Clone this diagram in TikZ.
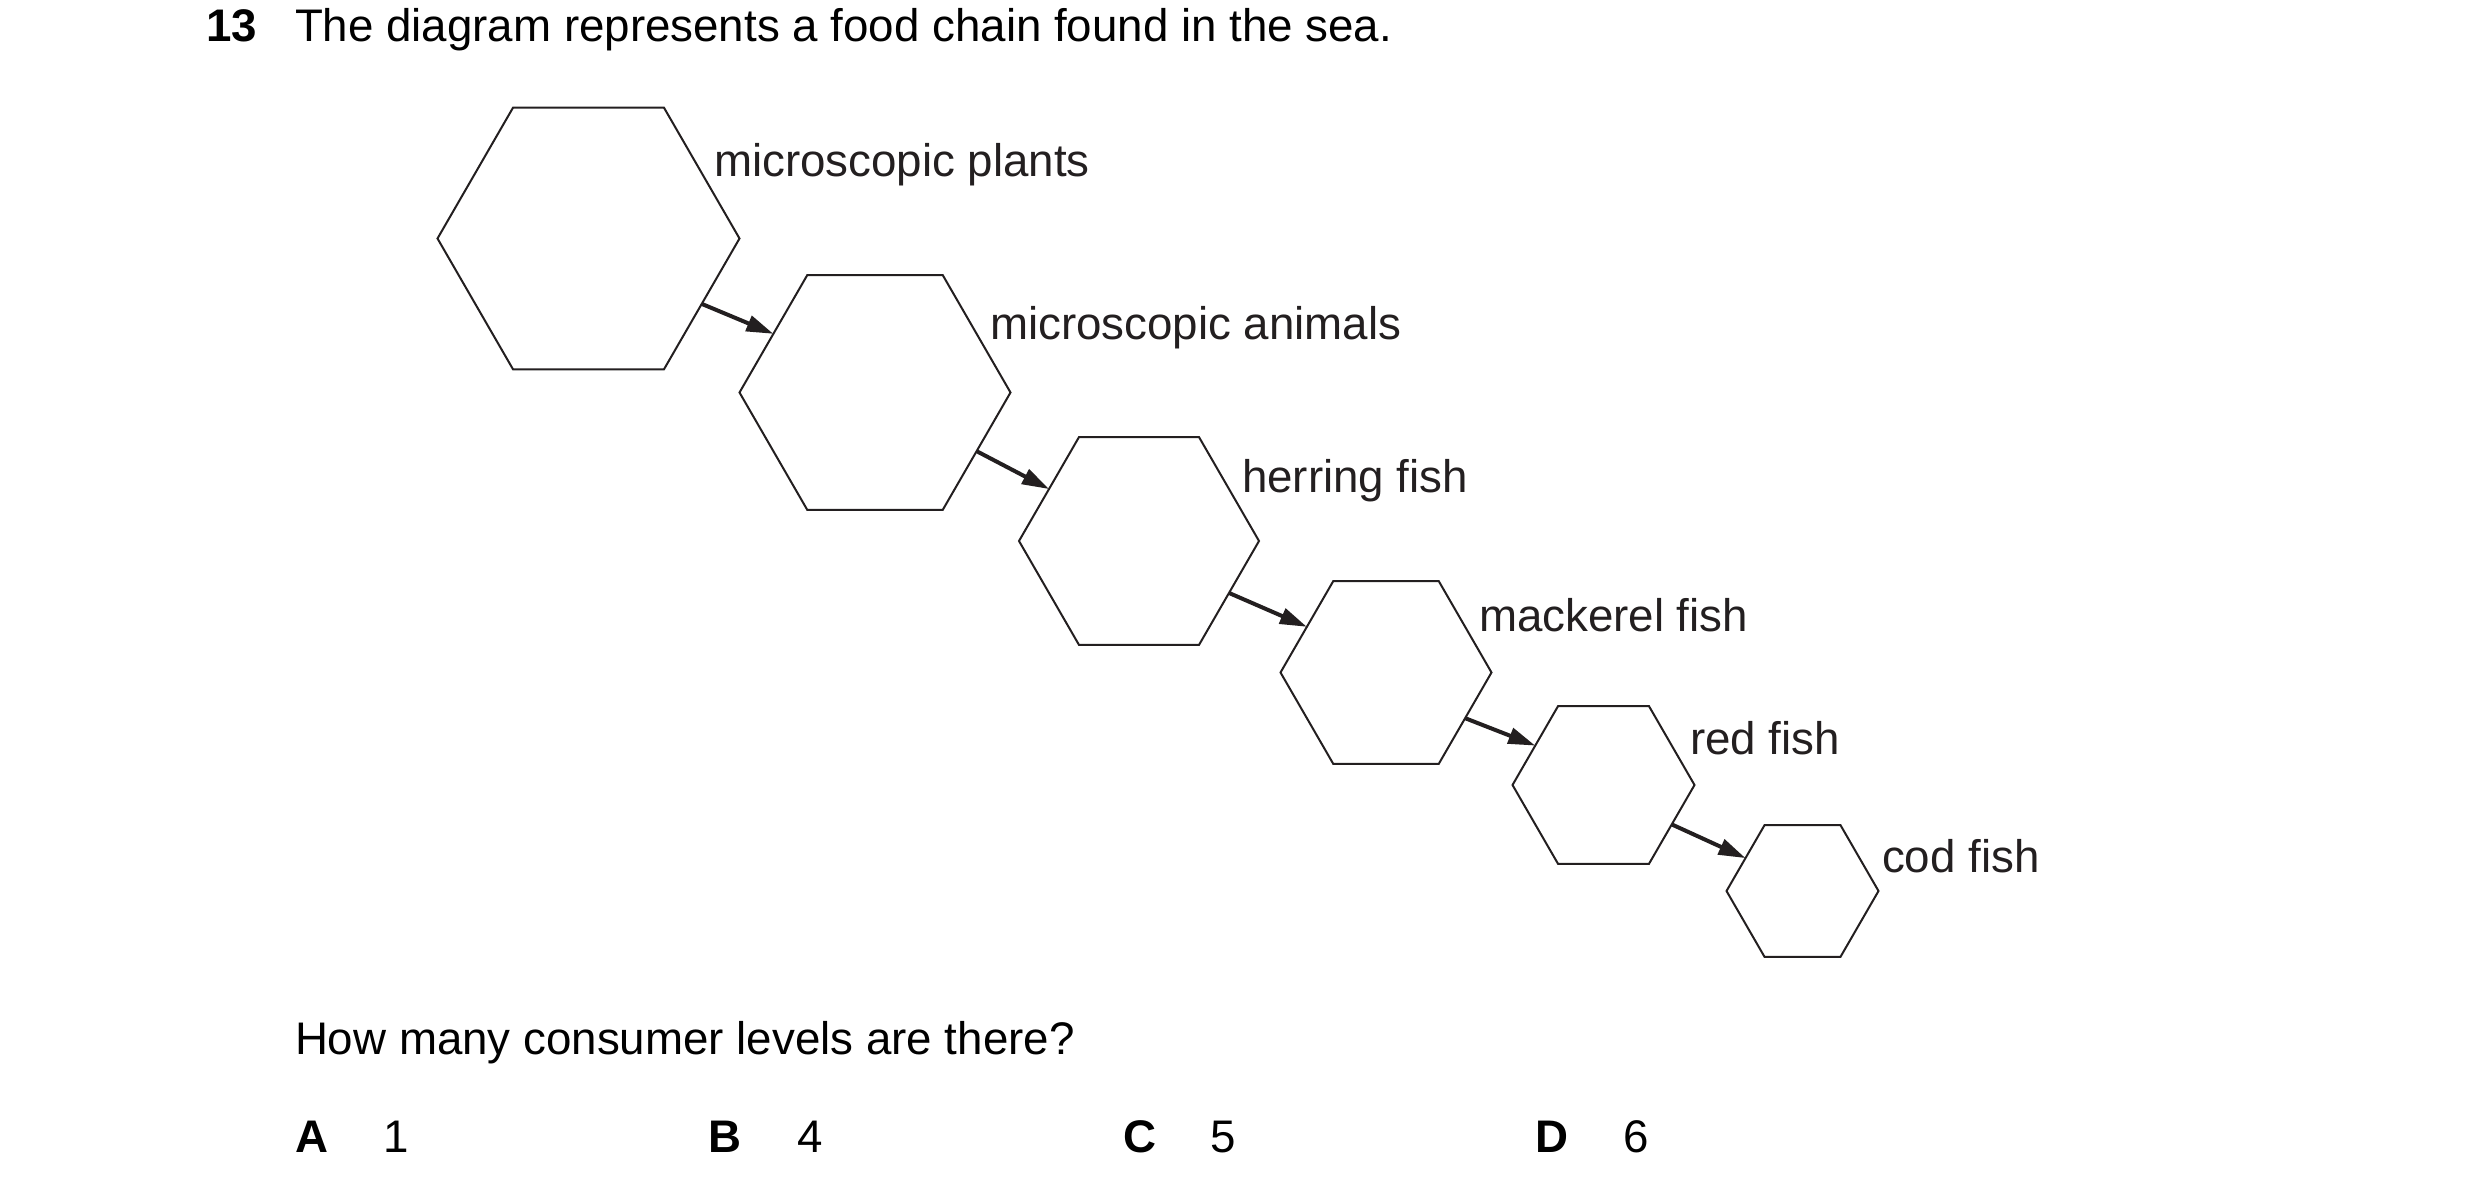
\documentclass[tikz,border=0pt]{standalone}
\usepackage{fontspec}
\setmainfont{Liberation Sans}
\usetikzlibrary{shapes.geometric,arrows.meta}
\definecolor{ink}{RGB}{35,31,32}
\begin{document}
\begin{tikzpicture}[x=0.1mm,y=-0.1mm,
  hexa/.style={regular polygon,regular polygon sides=6,draw=ink,line width=0.2mm,
    inner sep=0pt,outer sep=0pt,minimum size=#1*0.1mm},
  txt/.style={anchor=base west,inner sep=0pt,outer sep=0pt,text=black,
    font=\fontsize{13}{15}\selectfont},
  bold/.style={txt,font=\fontsize{13}{15}\selectfont\bfseries},
  lbl/.style={txt,text=ink},
  feed/.style={draw=ink,line width=0.4mm,-{Triangle[length=2.7mm,width=1.6mm]}}]
\useasboundingbox (0,0) rectangle (2480,1192);
% title
\node[bold] (num) at (206,41.7) {13};
\node[txt] (title) at (295,41.7) {The diagram represents a food chain found in the sea.};
% hexagons
\node[hexa=302] (h1) at (588.5,238.5) {};
\node[hexa=271] (h2) at (875,392.5) {};
\node[hexa=240] (h3) at (1139,541) {};
\node[hexa=211] (h4) at (1386,672.5) {};
\node[hexa=182] (h5) at (1603.5,785) {};
\node[hexa=152] (h6) at (1802.5,891) {};
% labels
\node[lbl] (l1) at (714,176.7) {microscopic plants};
\node[lbl] (l2) at (990,340) {microscopic animals};
\node[lbl] (l3) at (1242,493) {herring fish};
\node[lbl] (l4) at (1479,632) {mackerel fish};
\node[lbl] (l5) at (1690,755) {red fish};
\node[lbl] (l6) at (1882,872) {cod fish};
% arrows
\draw[feed] (h1.-30) -- (h2.150);
\draw[feed] (h2.-30) -- (h3.150);
\draw[feed] (h3.-30) -- (h4.150);
\draw[feed] (h4.-30) -- (h5.150);
\draw[feed] (h5.-30) -- (h6.150);
% question
\node[txt] (q) at (295,1054) {How many consumer levels are there?};
\node[bold] (oa) at (295,1152) {A};
\node[txt] (va) at (383,1152) {1};
\node[bold] (ob) at (708,1152) {B};
\node[txt] (vb) at (797,1152) {4};
\node[bold] (oc) at (1123,1152) {C};
\node[txt] (vc) at (1210,1152) {5};
\node[bold] (od) at (1535,1152) {D};
\node[txt] (vd) at (1623,1152) {6};
\end{tikzpicture}
\end{document}
